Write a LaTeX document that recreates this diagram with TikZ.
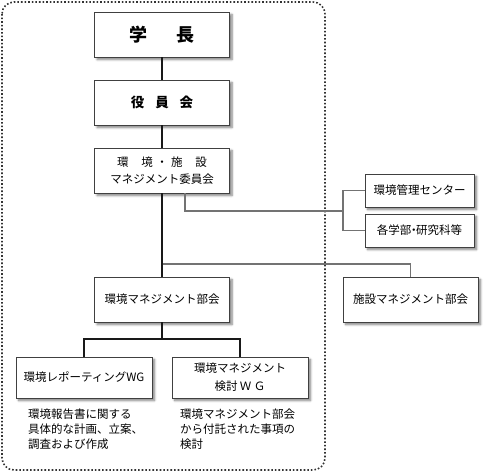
\documentclass[tikz,border=0pt]{standalone}
\usepackage{fontspec}
\setmainfont{Noto Sans CJK JP}
\usetikzlibrary{shadows.blur}
\tikzset{
  box/.style={draw=black!75, line width=0.8pt, fill=white, rectangle, inner sep=0pt, align=center,
    blur shadow={shadow blur steps=6, shadow xshift=2.5pt, shadow yshift=-2.5pt, shadow opacity=50}},
  mainline/.style={draw=black!90, line width=1.7pt},
  subline/.style={draw=black!55, line width=1.1pt},
  note/.style={anchor=north west, align=left, font=\fontsize{11.5}{15}\selectfont, inner sep=0pt},
}
\begin{document}
\begin{tikzpicture}[x=1pt,y=-1pt]
\useasboundingbox (0,0) rectangle (489,475);
\draw[black!80, line width=1.6pt, dotted, rounded corners=12pt] (2,2) rectangle (325,470);

\node[box, minimum width=135pt, minimum height=45pt, font=\fontsize{18}{20}\selectfont\bfseries] (gakucho) at (162,34.5) {学\hspace{1.6em}長};
\node[box, minimum width=135pt, minimum height=45pt, font=\fontsize{13.5}{16}\selectfont\bfseries] (yakuin) at (162,102.5) {役\hspace{0.8em}員\hspace{0.8em}会};
\node[box, minimum width=135pt, minimum height=45pt, font=\fontsize{11.5}{17}\selectfont] (iinkai) at (162,170.5) {環\hspace{1.1em}境\hspace{0.3em}・\hspace{0.3em}施\hspace{1.1em}設\\マネジメント委員会};

\node[box, minimum width=109pt, minimum height=33pt, font=\fontsize{11.5}{14}\selectfont] (center) at (419.5,190.5) {環境管理センター};
\node[box, minimum width=109pt, minimum height=33pt, font=\fontsize{11.5}{14}\selectfont] (gakubu) at (419.5,230.5) {各学部\hspace{-0.3em}・\hspace{-0.3em}研究科等};

\node[box, minimum width=135pt, minimum height=45pt, font=\fontsize{11.5}{14}\selectfont] (kankyo) at (162,299.5) {環境マネジメント部会};
\node[box, minimum width=135pt, minimum height=45pt, font=\fontsize{11.5}{14}\selectfont] (shisetsu) at (410.5,299.5) {施設マネジメント部会};

\node[box, minimum width=136pt, minimum height=41pt, font=\fontsize{11.5}{14}\selectfont] (report) at (84,377.5) {環境レポーティングWG};
\node[box, minimum width=136pt, minimum height=41pt, font=\fontsize{11.5}{18}\selectfont] (kento) at (240,377.5) {環境マネジメント\\検討\hspace{0.2em}Ｗ\hspace{0.2em}Ｇ};

\node[note] (note1) at (28,409) {環境報告書に関する\\具体的な計画、立案、\\調査および作成};
\node[note] (note2) at (180,409) {環境マネジメント部会\\から付託された事項の\\検討};

\coordinate (jA) at (185,211);
\coordinate (jB) at (343,211);
\coordinate (jC) at (162,264);
\coordinate (jD) at (162,339);

\draw[subline] (iinkai.south -| jA) -- (jA) -- (jB);
\draw[subline] (center.west) -| (jB) |- (gakubu.west);
\draw[subline] (jC) -| (shisetsu.north);
\draw[mainline] (gakucho.south) -- (yakuin.north);
\draw[mainline] (yakuin.south) -- (iinkai.north);
\draw[mainline] (iinkai.south) -- (kankyo.north);
\draw[mainline] (kankyo.south) -- (jD);
\draw[mainline] (report.north) |- (jD) -| (kento.north);
\end{tikzpicture}
\end{document}
